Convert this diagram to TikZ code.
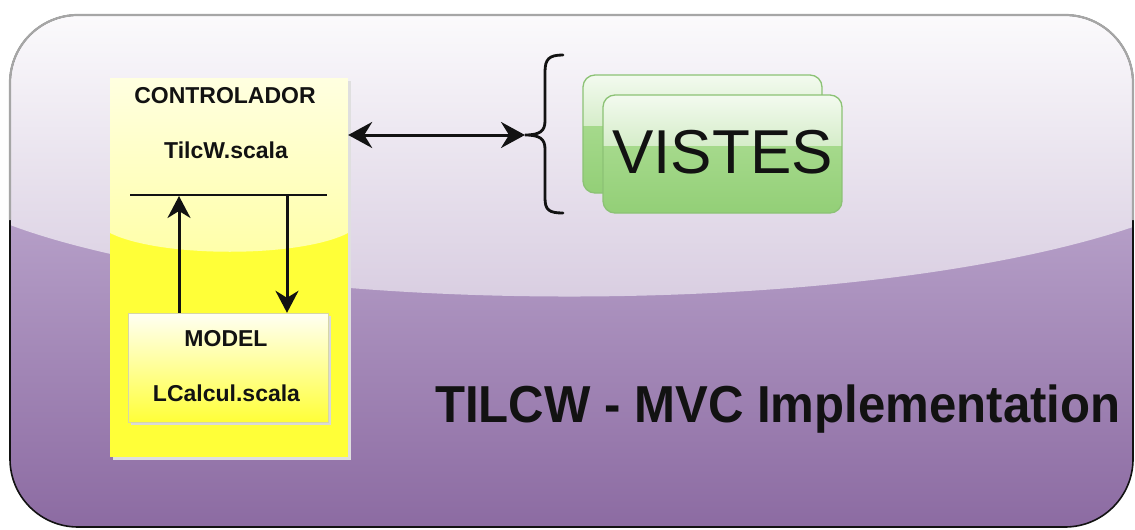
\documentclass[tikz,border=0pt]{standalone}
\usepackage{fontspec}
\setmainfont{Liberation Sans}
\usetikzlibrary{arrows.meta,calc}
\definecolor{ptop}{HTML}{FBFAFC}
\definecolor{pmid}{HTML}{D6CADF}
\definecolor{plow}{HTML}{B8A2CA}
\definecolor{pbot}{HTML}{8C6BA2}
\definecolor{ytop}{HTML}{FFFFE0}
\definecolor{ymid}{HTML}{FFFFA8}
\definecolor{ybright}{HTML}{FFFF38}
\definecolor{ywhite}{HTML}{FFFFF4}
\definecolor{gtop}{HTML}{F3FAEF}
\definecolor{gmid}{HTML}{D6EDCA}
\definecolor{glow}{HTML}{B3E19B}
\definecolor{gbot}{HTML}{93CF77}
\definecolor{gborder}{HTML}{8CC275}
\definecolor{ink}{HTML}{121212}
\begin{document}
\begin{tikzpicture}[x=1pt,y=-1pt,
  lbl/.style={font=\bfseries\fontsize{23}{26}\selectfont, text=ink, inner sep=0pt, anchor=base},
  arr/.style={line width=3pt, draw=ink, -{Stealth[length=22pt,width=23pt,inset=7pt]}},
  dbl/.style={line width=3pt, draw=ink, {Stealth[length=24pt,width=26pt,inset=8pt]}-{Stealth[length=24pt,width=26pt,inset=8pt]}},
  anchorbox/.style={draw=none, fill=none, inner sep=0pt, rectangle}]
\useasboundingbox (0,0) rectangle (1135,530);
\fill[white] (0,0) rectangle (1135,530);
% outer glossy panel
\begin{scope}
  \clip[rounded corners=68pt] (10,15) rectangle (1133,527);
  \shade[top color=plow, bottom color=pbot] (10,200) rectangle (1133,527);
  \shade[top color=ptop, bottom color=pmid] (10,15) -- (1133,15) -- (1133,227)
     .. controls (850,322) and (260,318) .. (10,225) -- cycle;
\end{scope}
\draw[line width=1.6pt, ink, rounded corners=68pt] (10,15) rectangle (1133,527);
\draw[line width=2.2pt, black!35, rounded corners=68pt] (10,220) -- (10,15) -- (1133,15) -- (1133,220);
% controller box
\fill[white!75!gray] (113,81) rectangle (351,460);
\begin{scope}
  \clip (110,78) rectangle (348,457);
  \fill[ybright] (110,78) rectangle (348,457);
  \shade[top color=ytop, bottom color=ymid] (110,78) -- (348,78) -- (348,233)
     .. controls (300,258) and (160,258) .. (110,233) -- cycle;
\end{scope}
\node[anchorbox, minimum width=238pt, minimum height=379pt] (ctrl) at (229,267.5) {};
% model box
\fill[white!70!gray] (131,316) rectangle (331,425);
\shade[top color=ywhite, middle color=ybright!70!white, bottom color=ybright] (128,313) rectangle (328,422);
\draw[line width=0.6pt, ybright!60!black!40] (128,313) rectangle (328,422);
\node[anchorbox, minimum width=200pt, minimum height=109pt] (model) at (228,367.5) {};
% texts
\node[lbl] (ctitle) at (225,103) {CONTROLADOR};
\node[lbl] (cfile) at (226,158) {TilcW.scala};
\node[lbl] (mtitle) at (226,346) {MODEL};
\node[lbl] (mfile) at (226.5,401) {LCalcul.scala};
% separator and arrows
\coordinate (sepL) at (130,195);
\coordinate (sepR) at (327,195);
\draw[line width=1.8pt, ink] (sepL) -- (sepR);
\coordinate (upTop) at (179,196);
\coordinate (dnTop) at (287,195);
\draw[arr] (model.north -| upTop) -- (upTop);
\draw[arr] (dnTop) -- (model.north -| dnTop);
% brace
\coordinate (brtip) at (525,135);
\draw[line width=2.8pt, ink, line cap=round] (563,55) .. controls (549,55) and (545,59) .. (545,72)
   -- (545,121) .. controls (545,131) and (540,135) .. (brtip)
   .. controls (540,135) and (545,139) .. (545,149)
   -- (545,198) .. controls (545,210) and (549,213) .. (563,213);
\draw[dbl] (ctrl.east |- brtip) -- (brtip);
% views
\foreach \xa/\ya in {583/75, 603/95} {
  \begin{scope}
    \clip[rounded corners=12pt] (\xa,\ya) rectangle ++(239,118);
    \shade[top color=glow, bottom color=gbot] (\xa,\ya) rectangle ++(239,118);
    \shade[top color=gtop, bottom color=gmid] (\xa,\ya) rectangle ++(239,50);
  \end{scope}
  \draw[line width=1.3pt, gborder, rounded corners=12pt] (\xa,\ya) rectangle ++(239,118);
}
\node[anchorbox, minimum width=239pt, minimum height=118pt] (views) at (722.5,154) {};
\node[inner sep=0pt, anchor=base, text=ink, font=\fontsize{62}{70}\selectfont] (vtxt) at (722.5,173) {VISTES};
% title
\node[inner sep=0pt, anchor=base west, text=ink, font=\bfseries\fontsize{52}{60}\selectfont] (title) at (435,422) {\scalebox{0.945}[1]{TILCW - MVC Implementation}};
\end{tikzpicture}
\end{document}
